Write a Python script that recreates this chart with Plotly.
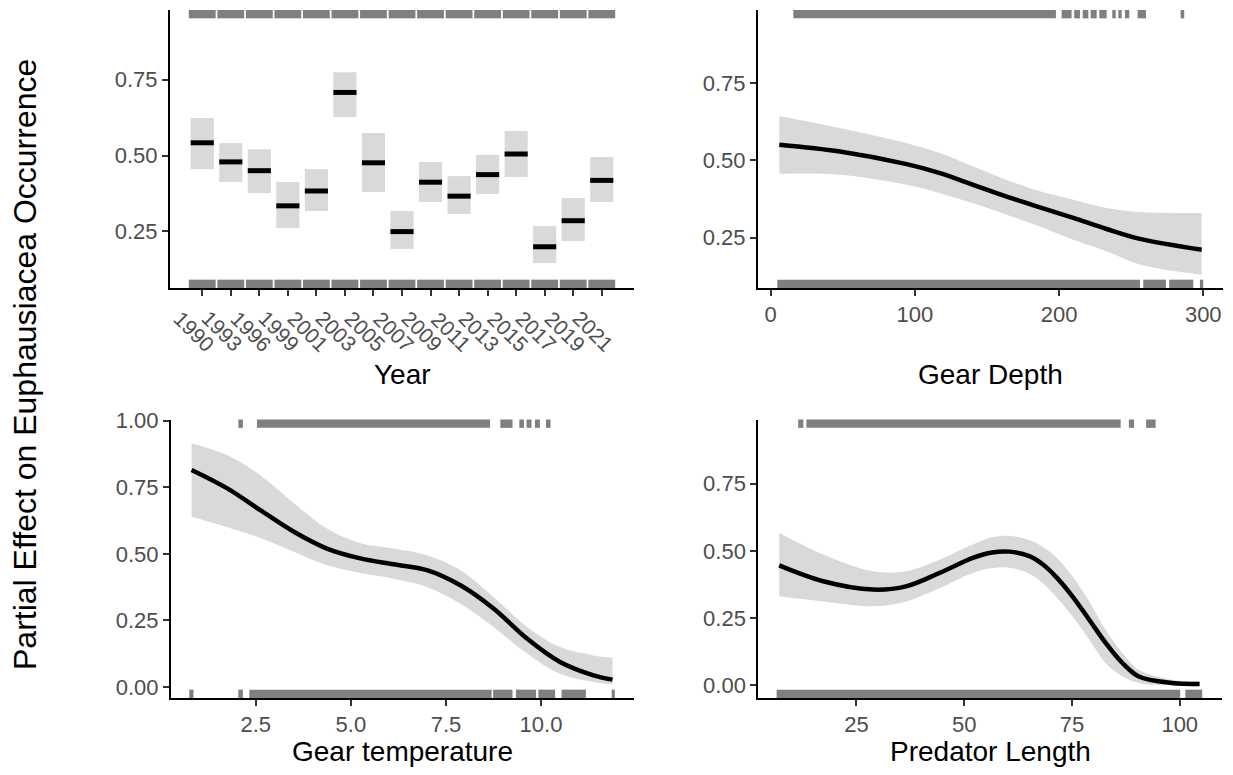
import plotly.graph_objects as go

W, H = 1233, 775

# ---------------- data ----------------
years = ["1990", "1993", "1996", "1999", "2001", "2003", "2005", "2007",
         "2009", "2011", "2013", "2015", "2017", "2019", "2021"]
year_fit = [0.542, 0.479, 0.450, 0.334, 0.383, 0.708, 0.476, 0.249,
            0.412, 0.366, 0.437, 0.505, 0.199, 0.285, 0.418]
year_lo = [0.455, 0.413, 0.376, 0.261, 0.317, 0.627, 0.380, 0.192,
           0.347, 0.307, 0.373, 0.429, 0.145, 0.218, 0.347]
year_hi = [0.624, 0.541, 0.521, 0.413, 0.455, 0.775, 0.574, 0.317,
           0.479, 0.432, 0.502, 0.581, 0.267, 0.360, 0.495]

depth_x = [6.0, 48.0, 94.3, 117.4, 140.5, 163.6, 186.7, 209.9, 233.0, 256.1, 298.9]
depth_fit = [0.551, 0.529, 0.488, 0.459, 0.421, 0.383, 0.348, 0.314, 0.278, 0.246, 0.211]
depth_hi = [0.644, 0.605, 0.556, 0.524, 0.480, 0.437, 0.400, 0.373, 0.346, 0.333, 0.330]
depth_lo = [0.457, 0.454, 0.421, 0.394, 0.361, 0.324, 0.286, 0.243, 0.206, 0.163, 0.130]
depth_rug_top = [(15.7, 197.8), (201.8, 208.7), (210.5, 214.5), (216.4, 220.3),
                 (221.9, 226.1), (227.9, 233.0), (236.9, 239.3), (241.1, 243.4),
                 (245.7, 248.7), (254.5, 260.3), (284.3, 286.8)]
depth_rug_bot = [(4.6, 256.1), (258.4, 274.1), (276.4, 293.1), (297.7, 300.0)]

temp_x = [0.81, 1.75, 2.62, 3.50, 4.37, 5.25, 6.12, 7.00, 7.88, 8.75, 9.63, 10.50, 11.38, 11.88]
temp_fit = [0.815, 0.746, 0.664, 0.583, 0.520, 0.483, 0.461, 0.439, 0.382, 0.295, 0.182, 0.094, 0.044, 0.028]
temp_hi = [0.915, 0.870, 0.795, 0.690, 0.595, 0.540, 0.520, 0.495, 0.439, 0.338, 0.226, 0.150, 0.119, 0.110]
temp_lo = [0.639, 0.600, 0.560, 0.508, 0.457, 0.428, 0.407, 0.376, 0.313, 0.226, 0.126, 0.050, 0.019, 0.010]
temp_rug_top = [(2.04, 2.16), (2.53, 8.66), (8.93, 9.25), (9.43, 9.55), (9.62, 9.75),
                (9.84, 9.97), (10.13, 10.25)]
temp_rug_bot = [(0.75, 0.86), (2.04, 2.16), (2.33, 8.70), (8.74, 9.25), (9.34, 9.87),
                (9.93, 10.37), (10.54, 11.18), (11.86, 11.94)]

len_x = [7.1, 17.3, 28.8, 36.5, 44.3, 52.0, 56.5, 60.5, 65.1, 68.2, 71.2, 75.1, 79.0, 82.8, 86.7, 90.5, 98.2, 104.6]
len_fit = [0.446, 0.387, 0.356, 0.368, 0.418, 0.474, 0.494, 0.497, 0.480, 0.450, 0.405, 0.331, 0.244, 0.158, 0.083, 0.033, 0.009, 0.005]
len_hi = [0.567, 0.486, 0.424, 0.424, 0.467, 0.523, 0.550, 0.556, 0.540, 0.515, 0.478, 0.405, 0.312, 0.207, 0.120, 0.058, 0.021, 0.015]
len_lo = [0.331, 0.312, 0.294, 0.312, 0.362, 0.418, 0.436, 0.437, 0.415, 0.380, 0.331, 0.257, 0.170, 0.083, 0.033, 0.009, 0.000, 0.000]
len_rug_top = [(11.5, 12.7), (13.4, 86.3), (88.2, 89.4), (92.2, 94.4)]
len_rug_bot = [(6.5, 100.1), (101.3, 105.2)]

# ---------------- style ----------------
FONT = "Liberation Sans"
TICK_FONT = dict(family=FONT, size=22, color="#4D4D4D")
TITLE_FONT = dict(family=FONT, size=28, color="black")
BAND = "#D9D9D9"
RUG = "#7F7F7F"


def px_x(a, b):
    return [a / W, b / W]


def px_y(top, bottom):
    return [1 - bottom / H, 1 - top / H]


fig = go.Figure()

# ---- panel 1: Year ----
idx = list(range(len(years)))
fig.add_trace(go.Bar(x=idx, y=[h - l for h, l in zip(year_hi, year_lo)], base=year_lo,
                     width=0.81, marker=dict(color=BAND, line=dict(width=0)),
                     xaxis="x", yaxis="y", hoverinfo="skip", showlegend=False))
mx, my = [], []
for i, v in zip(idx, year_fit):
    mx += [i - 0.405, i + 0.405, None]
    my += [v, v, None]
fig.add_trace(go.Scatter(x=mx, y=my, mode="lines", line=dict(color="black", width=5),
                         xaxis="x", yaxis="y", showlegend=False))


def add_smooth(xs, fit, lo, hi, xa, ya):
    fig.add_trace(go.Scatter(x=xs, y=lo, mode="lines", line=dict(width=0, shape="spline"),
                             xaxis=xa, yaxis=ya, showlegend=False, hoverinfo="skip"))
    fig.add_trace(go.Scatter(x=xs, y=hi, mode="lines", line=dict(width=0, shape="spline"),
                             fill="tonexty", fillcolor=BAND,
                             xaxis=xa, yaxis=ya, showlegend=False, hoverinfo="skip"))
    fig.add_trace(go.Scatter(x=xs, y=fit, mode="lines",
                             line=dict(color="black", width=4.5, shape="spline"),
                             xaxis=xa, yaxis=ya, showlegend=False))


add_smooth(depth_x, depth_fit, depth_lo, depth_hi, "x2", "y2")
add_smooth(temp_x, temp_fit, temp_lo, temp_hi, "x3", "y3")
add_smooth(len_x, len_fit, len_lo, len_hi, "x4", "y4")

# ---- rugs ----
shapes = []


def add_rug(spans, xref, yref, top):
    for a, b in spans:
        y0, y1 = (0.97, 1.0) if top else (0.0, 0.03)
        shapes.append(dict(type="rect", xref=xref, yref=yref + " domain", x0=a, x1=b,
                           y0=y0, y1=y1, fillcolor=RUG, line=dict(width=0), layer="below"))


year_spans = [(i - 0.47, i + 0.47) for i in idx]
add_rug(year_spans, "x", "y", True)
add_rug(year_spans, "x", "y", False)
add_rug(depth_rug_top, "x2", "y2", True)
add_rug(depth_rug_bot, "x2", "y2", False)
add_rug(temp_rug_top, "x3", "y3", True)
add_rug(temp_rug_bot, "x3", "y3", False)
add_rug(len_rug_top, "x4", "y4", True)
add_rug(len_rug_bot, "x4", "y4", False)

# ---- axes ----
common = dict(showline=True, linecolor="black", linewidth=2, ticks="outside", ticklen=6,
              tickwidth=2, tickcolor="#333333", showgrid=False, zeroline=False,
              tickfont=TICK_FONT, fixedrange=True, automargin=False)

fig.update_layout(
    xaxis=dict(domain=px_x(170, 634), range=[-1.13, 15.13], tickvals=idx,
               showticklabels=False, anchor="y", **common),
    yaxis=dict(domain=px_y(10, 288), range=[0.063, 0.980], tickvals=[0.25, 0.5, 0.75],
               ticktext=["0.25", "0.50", "0.75"], anchor="x", **common),
    xaxis2=dict(domain=px_x(758, 1223), range=[-8.8, 313.7], tickvals=[0, 100, 200, 300],
                anchor="y2", **common),
    yaxis2=dict(domain=px_y(10, 288), range=[0.087, 0.987], tickvals=[0.25, 0.5, 0.75],
                ticktext=["0.25", "0.50", "0.75"], anchor="x2", **common),
    xaxis3=dict(domain=px_x(171, 634), range=[0.27, 12.445], tickvals=[2.5, 5, 7.5, 10],
                ticktext=["2.5", "5.0", "7.5", "10.0"], anchor="y3", **common),
    yaxis3=dict(domain=px_y(419.5, 698), range=[-0.041, 1.0045],
                tickvals=[0, 0.25, 0.5, 0.75, 1.0],
                ticktext=["0.00", "0.25", "0.50", "0.75", "1.00"], anchor="x3", **common),
    xaxis4=dict(domain=px_x(758.3, 1222), range=[2.25, 109.8], tickvals=[25, 50, 75, 100],
                anchor="y4", **common),
    yaxis4=dict(domain=px_y(419.5, 698), range=[-0.047, 0.988],
                tickvals=[0, 0.25, 0.5, 0.75],
                ticktext=["0.00", "0.25", "0.50", "0.75"], anchor="x4", **common),
)

# ---- annotations ----
ann = []
for i, yr in zip(idx, years):
    ann.append(dict(text=yr, x=i, xref="x", y=1 - 331 / H, yref="paper", xshift=-8,
                    showarrow=False, textangle=45, xanchor="center", yanchor="middle",
                    font=dict(family=FONT, size=21, color="#4D4D4D")))


def title(text, cx, cy):
    ann.append(dict(text=text, x=cx / W, y=1 - cy / H, xref="paper", yref="paper",
                    showarrow=False, xanchor="center", yanchor="middle", font=TITLE_FONT))


title("Year", 402, 374)
title("Gear Depth", 990.5, 374)
title("Gear temperature", 402.5, 751)
title("Predator Length", 990, 751)
ann.append(dict(text="Partial Effect on Euphausiacea Occurrence", x=25 / W, y=1 - 365 / H,
                xref="paper", yref="paper", showarrow=False, textangle=-90,
                xanchor="center", yanchor="middle",
                font=dict(family=FONT, size=32, color="black")))

fig.update_layout(width=W, height=H, margin=dict(l=0, r=0, t=0, b=0, autoexpand=False),
                  paper_bgcolor="white", plot_bgcolor="white", showlegend=False,
                  barmode="overlay", annotations=ann, shapes=shapes,
                  font=dict(family=FONT))

fig.write_html("out.html", config={"displayModeBar": False},
               post_script="document.body.style.margin='0';")
